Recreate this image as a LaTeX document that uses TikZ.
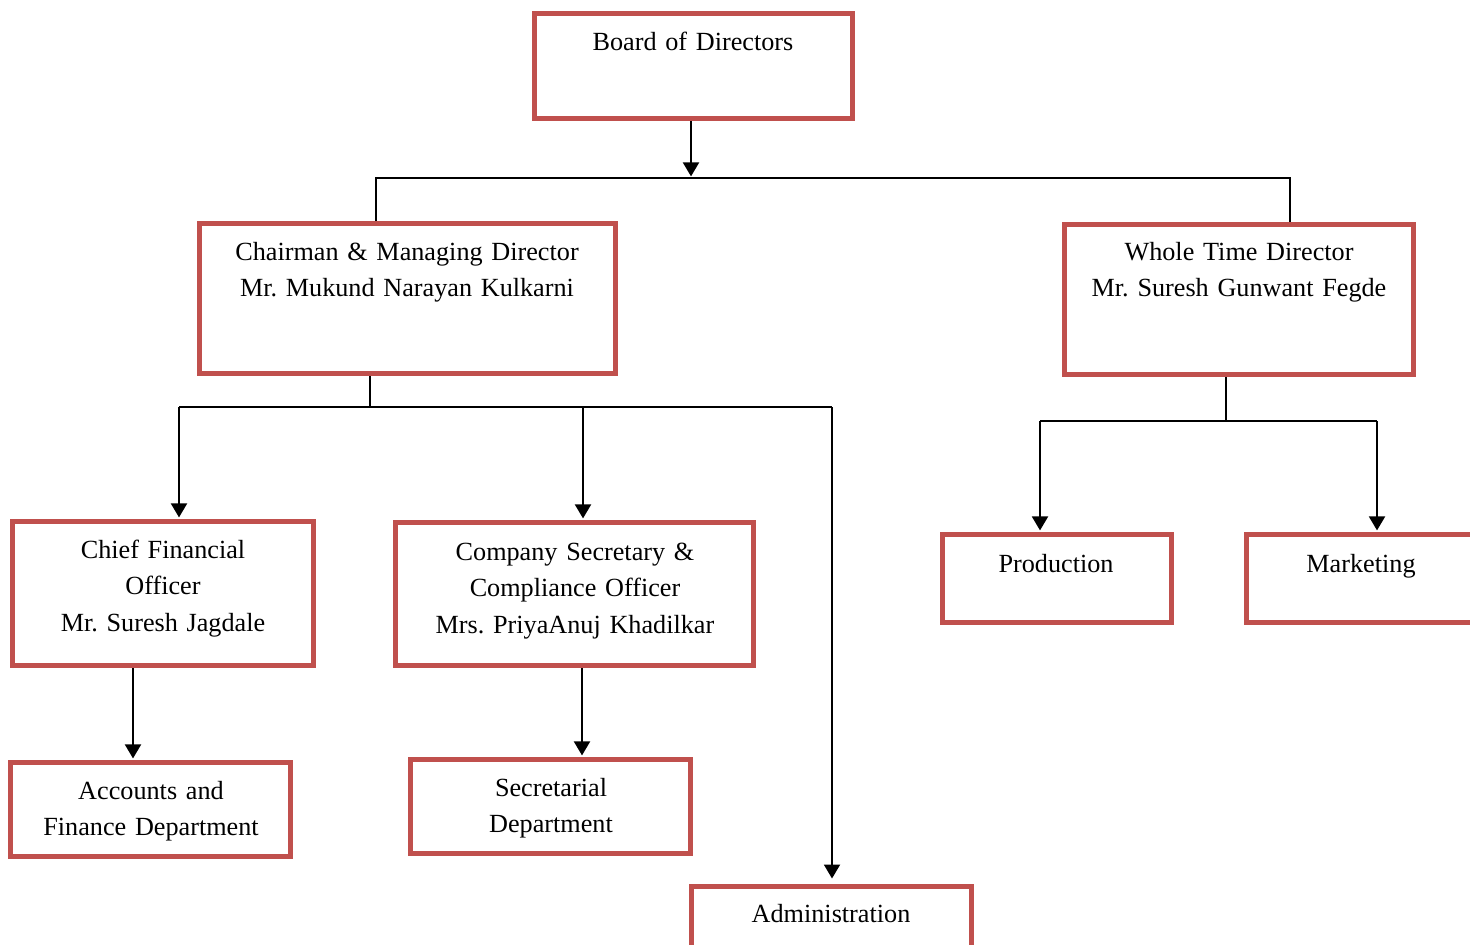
\documentclass[tikz,border=0pt]{standalone}
\usepackage{fontspec}
\setmainfont{Liberation Serif}
\usetikzlibrary{arrows.meta}
\definecolor{boxred}{HTML}{C0504D}
\begin{document}
\frenchspacing
\begin{tikzpicture}[x=0.5pt,y=-0.5pt,
  box/.style={draw=boxred, line width=2.5pt, rectangle, inner sep=0pt, fill=none},
  lbl/.style={anchor=base, align=center, text width=220pt, inner sep=0pt,
    font=\fontsize{13.1pt}{18.4pt}\selectfont\frenchspacing},
  conn/.style={line width=1pt, black},
  arr/.style={conn, -{Triangle[width=8pt,length=7pt]}, shorten >=0.8pt}]
\fill[white] (0,0) rectangle (1470,944);
\useasboundingbox (0,0) rectangle (1470,944);
% boxes
\node[box, minimum width=159pt, minimum height=52.5pt] (board) at (693.5,66) {};
\node[box, minimum width=208pt, minimum height=75pt] (cmd) at (407.5,298.5) {};
\node[box, minimum width=174.5pt, minimum height=75pt] (wtd) at (1239,299.5) {};
\node[box, minimum width=150.5pt, minimum height=72pt] (cfo) at (163,593.5) {};
\node[box, minimum width=179pt, minimum height=71.5pt] (cs) at (574.5,594) {};
\node[box, minimum width=114.5pt, minimum height=44pt] (prod) at (1057,578.5) {};
\node[box, minimum width=114.5pt, minimum height=44pt] (mkt) at (1361,578.5) {};
\node[box, minimum width=140pt, minimum height=47pt] (acc) at (150.5,809.5) {};
\node[box, minimum width=140pt, minimum height=47pt] (sec) at (550.5,806.5) {};
\node[box, minimum width=140pt, minimum height=48pt] (admin) at (831.5,934) {};
% labels
\node[lbl] (tboard) at (693,50) {Board of Directors};
\node[lbl] (tcmd) at (407,260) {Chairman \& Managing Director\\Mr. Mukund Narayan Kulkarni};
\node[lbl] (twtd) at (1239,260) {Whole Time Director\\Mr. Suresh Gunwant Fegde};
\node[lbl] (tcfo) at (163,558) {Chief Financial\\Officer\\Mr. Suresh Jagdale};
\node[lbl] (tcs) at (575,560) {Company Secretary \&\\Compliance Officer\\Mrs. PriyaAnuj Khadilkar};
\node[lbl] (tprod) at (1056,572) {Production};
\node[lbl] (tmkt) at (1361,572) {Marketing};
\node[lbl] (tacc) at (151,799) {Accounts and\\Finance Department};
\node[lbl] (tsec) at (551,796) {Secretarial\\Department};
\node[lbl] (tadmin) at (831,922) {Administration};
% junction coordinates
\coordinate (j1) at (691,178);
\coordinate (cL) at (376,178);
\coordinate (cR) at (1290,178);
\coordinate (k) at (370,407);
\coordinate (kL) at (179,407);
\coordinate (kM) at (583,407);
\coordinate (kR) at (832,407);
\coordinate (w) at (1226,421);
\coordinate (wL) at (1040,421);
\coordinate (wR) at (1377,421);
\coordinate (a1) at (133,700);
\coordinate (s1) at (582,700);
% connectors
\draw[arr] (board.south -| j1) -- (j1);
\draw[conn] (cmd.north -| cL) -- (cL) -- (cR) -- (wtd.north -| cR);
\draw[conn] (cmd.south -| k) -- (k);
\draw[conn] (kL) -- (kR);
\draw[arr] (kL) -- (cfo.north -| kL);
\draw[arr] (kM) -- (cs.north -| kM);
\draw[arr, shorten >=2.5pt] (kR) -- (admin.north -| kR);
\draw[conn] (wtd.south -| w) -- (w);
\draw[conn] (wL) -- (wR);
\draw[arr] (wL) -- (prod.north -| wL);
\draw[arr] (wR) -- (mkt.north -| wR);
\draw[arr] (cfo.south -| a1) -- (acc.north -| a1);
\draw[arr] (cs.south -| s1) -- (sec.north -| s1);
\end{tikzpicture}
\end{document}
